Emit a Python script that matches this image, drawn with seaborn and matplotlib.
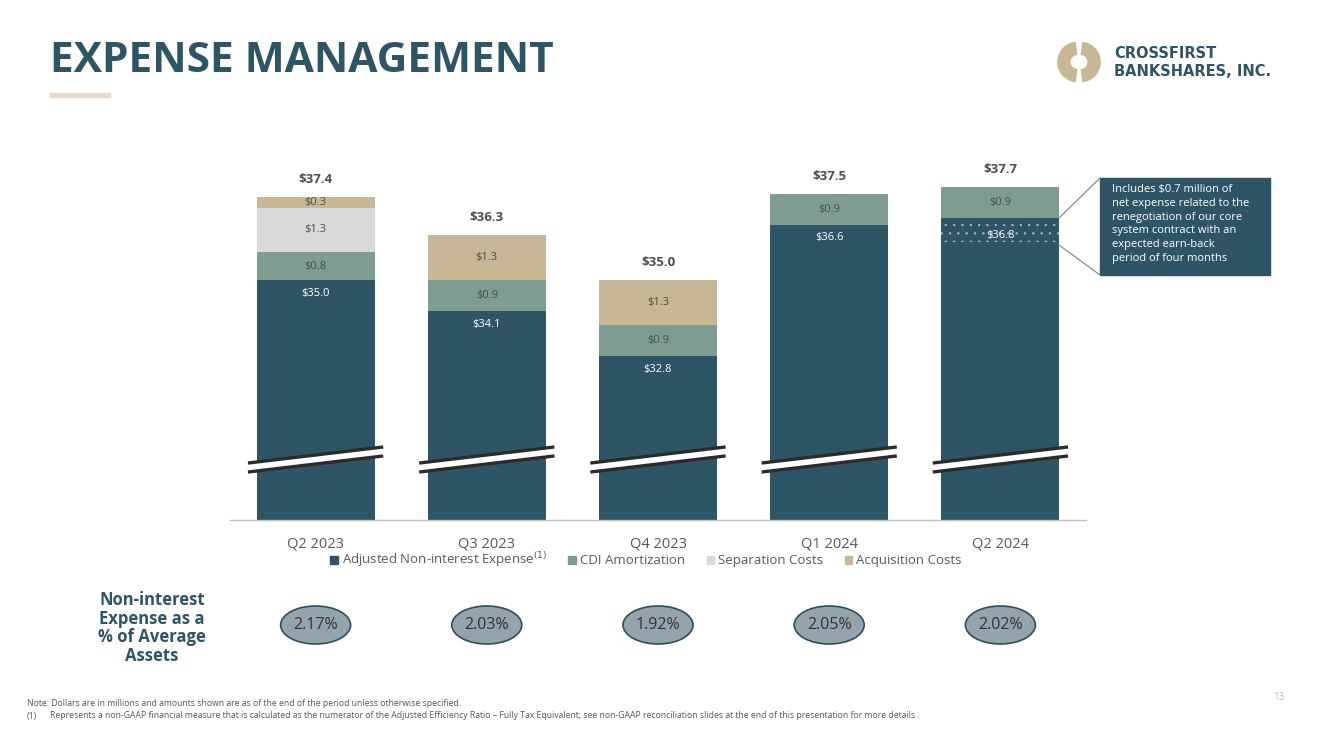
import numpy as np
import pandas as pd
import matplotlib
matplotlib.use("Agg")
import matplotlib.pyplot as plt
from matplotlib.patches import Patch, Ellipse, Rectangle, Wedge
import seaborn as sns

# data ($ millions)
quarters = ["Q2 2023", "Q3 2023", "Q4 2023", "Q1 2024", "Q2 2024"]
adjusted = [35.0, 34.1, 32.8, 36.6, 36.8]
cdi = [0.8, 0.9, 0.9, 0.9, 0.9]
separation = [1.3, 0.0, 0.0, 0.0, 0.0]
acquisition = [0.3, 1.3, 1.3, 0.0, 0.0]
totals = [37.4, 36.3, 35.0, 37.5, 37.7]
core_contract = [0.0, 0.0, 0.0, 0.0, 0.7]
expense_ratio = [2.17, 2.03, 1.92, 2.05, 2.02]

DARK = "#2E5566"
CDI_C = "#7E9C8F"
SEP_C = "#D9D9D9"
ACQ_C = "#C8B794"
TXT = "#4D4D4D"

sns.set_theme(style="white")
plt.rcParams["font.family"] = ["Open Sans", "DejaVu Sans"]
plt.rcParams["hatch.linewidth"] = 0.5

W, H = 1333, 749
fig = plt.figure(figsize=(W / 100, H / 100), dpi=100)
fig.patch.set_facecolor("white")

# main axes placed to match the slide
k = 34.5  # px per $1
y_lo = 35 - 240 / k
y_hi = 38.6
ax_h = (y_hi - y_lo) * k
ax = fig.add_axes([230 / W, (H - 520) / H, 856 / W, ax_h / H])

df = pd.DataFrame({
    "quarter": quarters,
    "adjusted": adjusted,
    "cdi": cdi,
    "separation": separation,
    "acquisition": acquisition,
})
df["l1"] = df["adjusted"]
df["l2"] = df["l1"] + df["cdi"]
df["l3"] = df["l2"] + df["separation"]
df["l4"] = df["l3"] + df["acquisition"]

bw = 0.69
for col, c in [("l4", ACQ_C), ("l3", SEP_C), ("l2", CDI_C), ("l1", DARK)]:
    sns.barplot(data=df, x="quarter", y=col, color=c, width=bw, ax=ax,
                saturation=1, linewidth=0, errorbar=None)

# dotted overlay for core contract expense
xs = np.arange(len(quarters))
cc = np.array(core_contract)
ax.bar(xs[cc > 0], cc[cc > 0], bottom=(np.array(adjusted) - cc)[cc > 0], width=bw,
       facecolor="none", edgecolor="#A7BAC2", hatch="..", linewidth=0, zorder=3)

ax.set_xlim(-0.5, 4.5)
ax.set_ylim(y_lo, y_hi)
ax.set_xlabel("")
ax.set_ylabel("")
ax.set_yticks([])
for s in ["top", "right", "left"]:
    ax.spines[s].set_visible(False)
ax.spines["bottom"].set_color("#BFBFBF")
ax.spines["bottom"].set_linewidth(1)
ax.tick_params(axis="x", which="major", length=0, pad=12, labelsize=10.5, labelcolor="#595959")
ax.set_xticks(np.arange(-0.5, 5, 1), minor=True)
ax.tick_params(axis="x", which="minor", length=5, color="#BFBFBF", direction="out")

# segment labels
for i in range(len(quarters)):
    off = 0.52 if core_contract[i] > 0 else 0.38
    ax.text(i, adjusted[i] - off, f"\\${adjusted[i]:.1f}", ha="center", va="center",
            fontsize=8, color="white", zorder=5)
    base = adjusted[i]
    for v in (cdi[i], separation[i], acquisition[i]):
        if v > 0:
            ax.text(i, base + v / 2, f"\\${v:.1f}", ha="center", va="center",
                    fontsize=8, color=TXT, zorder=5)
            base += v
    ax.text(i, totals[i] + 0.5, f"\\${totals[i]:.1f}", ha="center", va="center",
            fontsize=9.5, fontweight="bold", color=TXT, zorder=5)

# axis break marks
yb = 35 - 175 / k
slope = 0.46 / 0.78
gap = 9 / k
for i in range(len(quarters)):
    x0, x1 = i - bw / 2 - 0.05, i + bw / 2 + 0.05
    ya0 = yb - slope * (x1 - x0) / 2
    ya1 = yb + slope * (x1 - x0) / 2
    ax.fill([x0, x1, x1, x0], [ya0, ya1, ya1 - gap, ya0 - gap], color="white", zorder=6, clip_on=False)
    ax.plot([x0, x1], [ya0, ya1], color="#2B2B2B", lw=2.4, zorder=7, solid_capstyle="butt", clip_on=False)
    ax.plot([x0, x1], [ya0 - gap, ya1 - gap], color="#2B2B2B", lw=2.4, zorder=7, solid_capstyle="butt", clip_on=False)

# legend
handles = [Patch(color=DARK, label="Adjusted Non-interest Expense$^{(1)}$"),
           Patch(color=CDI_C, label="CDI Amortization"),
           Patch(color=SEP_C, label="Separation Costs"),
           Patch(color=ACQ_C, label="Acquisition Costs")]
fig.legend(handles=handles, loc="center", bbox_to_anchor=(646 / W, 1 - 560 / H), ncol=4,
           frameon=False, fontsize=9.5, handlelength=0.6, handleheight=0.6, handletextpad=0.3,
           columnspacing=1.6, labelcolor="#595959")

# title + logo
fig.text(50 / W, 1 - 62 / H, "EXPENSE MANAGEMENT", fontsize=30.5, fontweight="bold",
         color=DARK, ha="left", va="center")
fig.patches.append(Rectangle((50 / W, 1 - 97 / H), 60 / W, 4 / H, transform=fig.transFigure,
                             color="#E3DBCB", zorder=2))
lax = fig.add_axes([1055 / W, 1 - 86 / H, 48 / W, 48 / H])
lax.set_xlim(-1, 1)
lax.set_ylim(-1, 1)
lax.axis("off")
lax.add_patch(Wedge((-0.06, 0), 0.82, 97, 263, width=0.5, color="#C8B794"))
lax.add_patch(Wedge((0.06, 0), 0.82, -83, 83, width=0.5, color="#C8B794"))
fig.text(1114 / W, 1 - 54 / H, "CROSSFIRST", fontsize=10.5, fontweight="bold", color=DARK,
         ha="left", va="center", family="DejaVu Sans")
fig.text(1114 / W, 1 - 71 / H, "BANKSHARES, INC.", fontsize=10.5, fontweight="bold", color=DARK,
         ha="left", va="center", family="DejaVu Sans")

# callout box
fig.patches.append(Rectangle((1100 / W, 1 - 275 / H), 170 / W, 97 / H, transform=fig.transFigure,
                             color=DARK, zorder=2))
fig.text(1112 / W, 1 - 184 / H,
         "Includes \\$0.7 million of\nnet expense related to the\nrenegotiation of our core\n"
         "system contract with an\nexpected earn-back\nperiod of four months",
         fontsize=8, color="white", ha="left", va="top", linespacing=1.35, zorder=3)
for y0, y1 in [(218, 178), (245, 275)]:
    fig.lines.append(plt.Line2D([1059 / W, 1100 / W], [1 - y0 / H, 1 - y1 / H],
                                transform=fig.transFigure, color="#8C8C8C", lw=0.9))

# expense ratio row
rax = fig.add_axes([230 / W, 1 - 650 / H, 856 / W, 50 / H])
rax.set_xlim(-0.5, 4.5)
rax.set_ylim(0, 1)
rax.axis("off")
for i, v in enumerate(expense_ratio):
    rax.add_patch(Ellipse((i, 0.5), 70 / 171.2, 38 / 50, facecolor="#93A4AD",
                          edgecolor="#2E4E5C", lw=1.2))
    rax.text(i, 0.5, f"{v:.2f}%", ha="center", va="center", fontsize=11.5, color="#333333")
fig.text(152 / W, 1 - 628 / H, "Non-interest\nExpense as a\n% of Average\nAssets",
         fontsize=12, fontweight="bold", color=DARK, ha="center", va="center", linespacing=1.05)

# footnotes
fig.text(27 / W, 1 - 703 / H,
         "Note: Dollars are in millions and amounts shown are as of the end of the period unless otherwise specified.",
         fontsize=6.2, color="#555555", ha="left", va="center")
fig.text(27 / W, 1 - 716 / H, "(1)", fontsize=6.2, color="#555555", ha="left", va="center")
fig.text(50 / W, 1 - 716 / H,
         "Represents a non-GAAP financial measure that is calculated as the numerator of the Adjusted Efficiency "
         "Ratio \u2013 Fully Tax Equivalent; see non-GAAP reconciliation slides at the end of this presentation for more details .",
         fontsize=6.2, color="#555555", ha="left", va="center")
fig.text(1273 / W, 1 - 697 / H, "13", fontsize=7, color="#BBBBBB", ha="left", va="center")

fig.savefig("out.png", dpi=100)
